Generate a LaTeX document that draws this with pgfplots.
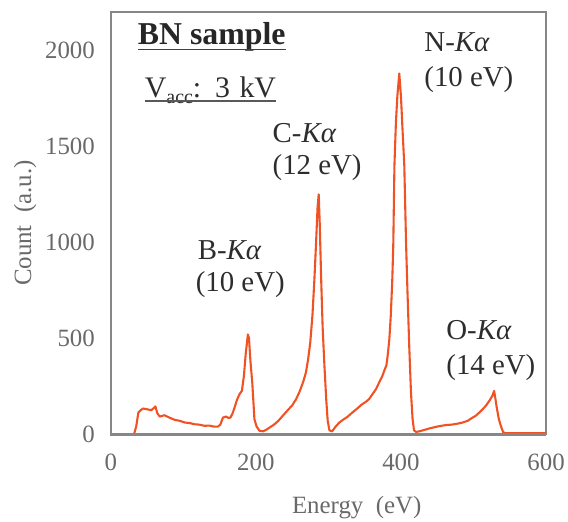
\documentclass[border=0pt]{standalone}
\usepackage{fontspec}
\setmainfont{Liberation Serif}
\usepackage{pgfplots}
\pgfplotsset{compat=1.18}
\definecolor{curve}{RGB}{240,82,36}
\definecolor{tickgray}{RGB}{105,105,105}
\definecolor{framegray}{RGB}{135,135,135}
\definecolor{anntext}{RGB}{45,45,45}
\begin{document}
\begin{tikzpicture}
\begin{axis}[
  at={(0,0)}, anchor=south west,
  scale only axis, width=436bp, height=423bp,
  xmin=0, xmax=600, ymin=0, ymax=2200,
  xtick={0,200,400,600}, ytick={0,500,1000,1500,2000},
  major tick length=0pt,
  axis line style={draw=framegray, line width=1.4bp},
  /pgf/number format/assume math mode=true,
  /pgf/number format/1000 sep={},
  tick label style={font=\fontsize{25}{30}\selectfont, text=tickgray},
  yticklabel style={xshift=-12.5bp},
  xticklabel style={yshift=-16bp},
  xlabel={Energy~ (eV)}, ylabel={Count~ (a.u.)},
  label style={font=\fontsize{25}{30}\selectfont, text=tickgray},
  xlabel style={at={(axis description cs:0.565,-0.1726)}, anchor=center},
  ylabel style={at={(axis description cs:-0.197,0.5)}, anchor=center},
]
\addplot[color=curve, line width=2.1bp, line join=round] table {
x y
0 0
32 0
35 40
38 113
41 125
44.5 134
50 130
56 125
61.5 145
64 110
67.4 92
74 99
80 88
88 75
95 70
102 61
109 58
115.6 52
122 50
129 44
136 45
142 40
147.7 40
151 50
154.6 87
159 92
162 85
165 87
168 110
170.6 139
174 180
177.5 209
180.7 226
183.5 304
186 420
189 520
190.5 500
192.5 380
195 270
198 78
201 40
205 18
210 15
215 25
219 35
225 50
231 70
237 96
245 130
250 150
255.5 183
260 220
265 270
269 322
272 390
275 479
278 620
280.7 809
283 1000
285 1180
286.6 1250
288 1100
290 809
292 560
294.5 357
297 180
299 70
301.4 20
305 15
310 40
315 61
320 75
326 90
333 113
340 135
346 155
352 170
356 183
361 210
365.6 235
370 270
374 300
377 331
380 360
382 420
384 496
386 620
388 800
389.4 983
391 1400
393 1620
395 1760
397.7 1880
400 1760
402 1600
404.6 1400
407 1000
409 740
411.5 450
413.8 218
416 80
418 20
421 12
425 15
430 20
439 30
450 40
462 48
470 50
478 55
485 61
492 70
498 85
503 96
510 120
517 148
522 175
526 200
528.4 226
530 190
532 140
535 78
538 40
541 10
545 5
600 5
};
\end{axis}
\draw[framegray, line width=2.6bp] (0,423bp) -- (0,0) -- (436bp,0);
\begin{scope}[every node/.style={inner sep=0pt, anchor=base west, text=anntext, font=\fontsize{29}{34}\selectfont}]
\node[font=\fontsize{32}{38}\selectfont\bfseries, text=black!85] (bn) at (27bp,390bp) {BN sample};
\draw[black!75, line width=1.5bp] ([yshift=-4.5bp]bn.base west) -- ([yshift=-4.5bp]bn.base east);
\node[font=\fontsize{30}{36}\selectfont] (va) at (34bp,337bp) {V\raisebox{-6bp}{\fontsize{20}{24}\selectfont acc}:\hspace{4bp} 3\hspace{2bp} kV};
\draw[black!65, line width=1.4bp] ([yshift=-3bp]va.base west) -- ([yshift=-3bp]va.base east);
\node at (162bp,292bp) {C-\textit{Kα}};
\node at (162bp,260bp) {(12 eV)};
\node at (314bp,383bp) {N-\textit{Kα}};
\node at (314bp,348bp) {(10 eV)};
\node at (87bp,175bp) {B-\textit{Kα}};
\node at (85bp,143bp) {(10 eV)};
\node at (336bp,95bp) {O-\textit{Kα}};
\node at (336bp,60bp) {(14 eV)};
\end{scope}
\path[use as bounding box] (-111bp,-84bp) rectangle (457bp,435bp);
\end{tikzpicture}
\end{document}
